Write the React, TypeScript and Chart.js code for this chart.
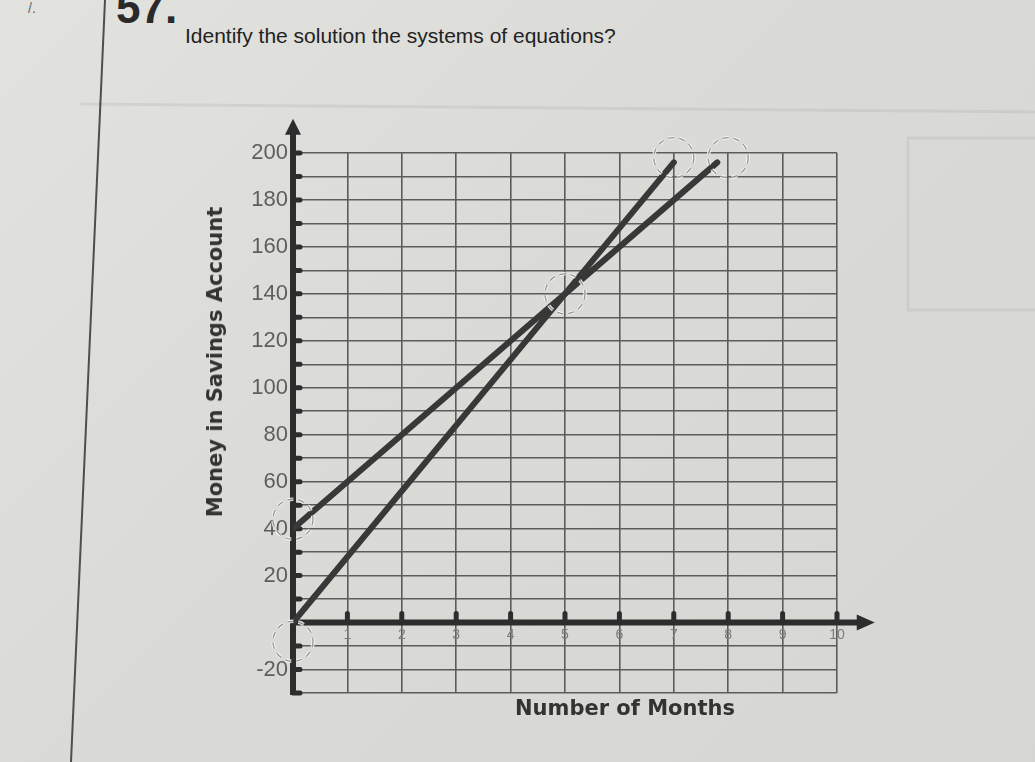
import React, { useEffect, useRef } from 'react';
import { Chart, registerables } from 'chart.js';

Chart.register(...registerables);

// ---- data ----
const xMin = 0;
const xMax = 10;
const yMin = -30;
const yMax = 200;
const lineAX = [0, 7];
const lineAY = [0, 196];
const lineBX = [0, 7.8];
const lineBY = [40, 196];
const circleX = [0, 0, 5, 7, 8];
const circleY = [-8, 44, 140, 198, 198];
const xAxisTitle = 'Number of Months';
const yAxisTitle = 'Money in Savings Account';
const questionText = 'Identify the solution the systems of equations?';

const toPoints = (xs: number[], ys: number[]) => xs.map((v, i) => ({ x: v, y: ys[i] }));

const axesPlugin = {
  id: 'handAxes',
  beforeDatasetsDraw(chart: any) {
    const { ctx, scales } = chart;
    const x = scales.x;
    const y = scales.y;
    const x0 = x.getPixelForValue(0);
    const y0 = y.getPixelForValue(0);
    ctx.save();
    ctx.strokeStyle = '#2d2d2d';
    ctx.fillStyle = '#2d2d2d';
    // y axis
    const yBottom = y.getPixelForValue(yMin);
    const yTop = y.getPixelForValue(yMax + 12);
    ctx.lineWidth = 6;
    ctx.beginPath();
    ctx.moveTo(x0, yBottom + 2);
    ctx.lineTo(x0, yTop + 8);
    ctx.stroke();
    ctx.beginPath();
    ctx.moveTo(x0, yTop - 6);
    ctx.lineTo(x0 - 8, yTop + 10);
    ctx.lineTo(x0 + 8, yTop + 10);
    ctx.closePath();
    ctx.fill();
    // y stubs
    ctx.lineWidth = 5;
    ctx.lineCap = 'round';
    for (let v = yMin; v <= yMax; v += 10) {
      const py = y.getPixelForValue(v);
      ctx.beginPath();
      ctx.moveTo(x0, py);
      ctx.lineTo(x0 + 7, py);
      ctx.stroke();
    }
    // x axis
    const xRight = x.getPixelForValue(xMax + 0.62);
    ctx.lineCap = 'butt';
    ctx.lineWidth = 6;
    ctx.beginPath();
    ctx.moveTo(x0, y0);
    ctx.lineTo(xRight - 10, y0);
    ctx.stroke();
    ctx.beginPath();
    ctx.moveTo(xRight + 4, y0);
    ctx.lineTo(xRight - 14, y0 - 8);
    ctx.lineTo(xRight - 14, y0 + 8);
    ctx.closePath();
    ctx.fill();
    // x stubs
    ctx.lineWidth = 5;
    ctx.lineCap = 'round';
    for (let v = 1; v <= xMax; v += 1) {
      const px = x.getPixelForValue(v);
      ctx.beginPath();
      ctx.moveTo(px, y0);
      ctx.lineTo(px, y0 - 9);
      ctx.stroke();
    }
    ctx.restore();
  },
  afterDatasetsDraw(chart: any) {
    const { ctx, scales } = chart;
    ctx.save();
    for (let i = 0; i < circleX.length; i++) {
      const cx = scales.x.getPixelForValue(circleX[i]);
      const cy = scales.y.getPixelForValue(circleY[i]);
      ctx.setLineDash([6, 5]);
      ctx.lineWidth = 3.5;
      ctx.strokeStyle = 'rgba(245,245,243,0.9)';
      ctx.beginPath();
      ctx.arc(cx, cy, 20, 0, Math.PI * 2);
      ctx.stroke();
      ctx.lineWidth = 1.3;
      ctx.strokeStyle = 'rgba(110,110,110,0.7)';
      ctx.beginPath();
      ctx.arc(cx, cy, 20, 0, Math.PI * 2);
      ctx.stroke();
    }
    ctx.restore();
  },
};

function App() {
  const ref = useRef<HTMLCanvasElement | null>(null);

  useEffect(() => {
    if (!ref.current) return;
    const chart = new Chart(ref.current, {
      type: 'line',
      data: {
        datasets: [
          {
            data: toPoints(lineAX, lineAY),
            borderColor: '#383838',
            borderWidth: 6,
            borderCapStyle: 'round',
            pointRadius: 0,
            tension: 0,
          },
          {
            data: toPoints(lineBX, lineBY),
            borderColor: '#383838',
            borderWidth: 6,
            borderCapStyle: 'round',
            pointRadius: 0,
            tension: 0,
          },
        ],
      },
      options: {
        responsive: false,
        animation: false,
        devicePixelRatio: 1,
        layout: { padding: { left: 0, top: 43, right: 63, bottom: 57 } },
        plugins: { legend: { display: false }, tooltip: { enabled: false } },
        scales: {
          x: {
            type: 'linear',
            min: xMin,
            max: xMax,
            position: { y: 0 } as any,
            afterFit: (s: any) => {
              s.height = 0;
            },
            border: { display: false },
            grid: { color: '#5c5c5c', lineWidth: 1.6, drawTicks: false },
            ticks: {
              stepSize: 1,
              autoSkip: false,
              maxRotation: 0,
              padding: 4,
              color: '#7c7c7c',
              font: { size: 14, family: 'Liberation Sans' },
              callback: (v: any) => (v === 0 ? '' : String(v)),
            },
          },
          y: {
            type: 'linear',
            min: yMin,
            max: yMax,
            afterFit: (s: any) => {
              s.width = 103;
            },
            border: { display: false },
            grid: { color: '#5c5c5c', lineWidth: 1.6, drawTicks: false },
            ticks: {
              stepSize: 10,
              autoSkip: false,
              padding: 5,
              color: '#5e5e5e',
              font: { size: 22, family: 'Liberation Sans' },
              callback: (v: any) => (v % 20 === 0 && v !== 0 ? String(v) : ''),
            },
          },
        },
      },
      plugins: [axesPlugin],
    });
    return () => chart.destroy();
  }, []);

  return (
    <div
      style={{
        position: 'fixed',
        left: 0,
        top: 0,
        width: 1035,
        height: 762,
        overflow: 'hidden',
        background: 'linear-gradient(135deg, #e2e2df 0%, #dadad7 45%, #d6d6d2 100%)',
        fontFamily: 'Liberation Sans, Arial, sans-serif',
      }}
    >
      <svg width={1035} height={762} style={{ position: 'absolute', left: 0, top: 0 }}>
        <line x1={105} y1={0} x2={71} y2={762} stroke="#4e4e4e" strokeWidth={2} />
        <line x1={80} y1={104} x2={1035} y2={112} stroke="rgba(0,0,0,0.06)" strokeWidth={3} />
        <rect x={908} y={138} width={140} height={172} fill="none" stroke="rgba(0,0,0,0.05)" strokeWidth={3} />
      </svg>
      <div style={{ position: 'absolute', left: 28, top: 0, fontSize: 14, color: '#666' }}>/.</div>
      <div
        style={{
          position: 'absolute',
          left: 116,
          top: -17,
          fontSize: 44,
          fontWeight: 'bold',
          color: '#2a2a2a',
          fontFamily: 'Liberation Sans',
        }}
      >
        57.
      </div>
      <div
        style={{
          position: 'absolute',
          left: 185,
          top: 24,
          fontSize: 21,
          color: '#222',
          fontFamily: 'Liberation Sans',
          whiteSpace: 'nowrap',
        }}
      >
        {questionText}
      </div>
      <canvas
        ref={ref}
        width={710}
        height={640}
        style={{ position: 'absolute', left: 190, top: 110, width: 710, height: 640 }}
      />
      <div
        style={{
          position: 'absolute',
          left: 215,
          top: 362,
          transform: 'translate(-50%, -50%) rotate(-90deg)',
          fontSize: 21,
          fontWeight: 'bold',
          color: '#333',
          fontFamily: 'DejaVu Sans',
          whiteSpace: 'nowrap',
        }}
      >
        {yAxisTitle}
      </div>
      <div
        style={{
          position: 'absolute',
          left: 0,
          width: 1250,
          top: 696,
          textAlign: 'center',
          fontSize: 21,
          fontWeight: 'bold',
          color: '#333',
          fontFamily: 'DejaVu Sans',
        }}
      >
        {xAxisTitle}
      </div>
    </div>
  );
}

export default App;
